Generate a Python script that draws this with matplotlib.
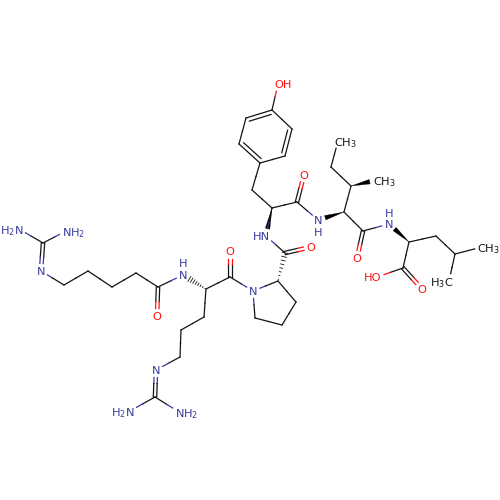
import matplotlib
matplotlib.use("Agg")
import matplotlib.pyplot as plt
import numpy as np

plt.rcParams['mathtext.default'] = 'regular'

BLACK = "#141414"
BLUE = "#3a3a9e"
RED = "#ff1010"

# atoms, pixel positions
atom_x = {
    "nh2a": 19, "nh2b": 66, "cz1": 43, "ne1": 41, "c1": 64, "c2": 88, "c3": 112, "c4": 136,
    "co1": 158, "o1": 157, "n1": 183, "ca1": 206, "co2": 230, "o2": 230, "cb2": 204, "cg2": 181,
    "cd2": 180, "ne2": 156, "cz2": 155, "nh2c": 130, "nh2d": 179, "n2": 253, "ca3": 278,
    "cb3": 296, "cg3": 282, "cd3": 255, "co3": 285, "o3": 311, "n4": 266, "ca4": 272, "co4": 297,
    "o4": 304, "cb4": 252, "r1": 260, "r2": 239, "r3": 246, "r4": 272, "r5": 292, "r6": 285,
    "oh": 278, "n5": 318, "ca5": 344, "cb5": 351, "me5": 377, "cg5": 331, "cd5": 338, "co5": 363,
    "o5": 357, "n6": 389, "ca6": 409, "cb6": 436, "cg6": 455, "me6": 482, "me7": 449,
    "co6": 403, "o6": 422, "oh6": 377,
}
atom_y = {
    "nh2a": 229, "nh2b": 231, "cz1": 243, "ne1": 271, "c1": 285, "c2": 271, "c3": 287, "c4": 273,
    "co1": 287, "o1": 316, "n1": 275, "ca1": 289, "co2": 277, "o2": 251, "cb2": 317, "cg2": 330,
    "cd2": 357, "ne2": 370, "cz2": 397, "nh2c": 411, "nh2d": 412, "n2": 291, "ca3": 281,
    "cb3": 302, "cg3": 325, "cd3": 318, "co3": 253, "o3": 247, "n4": 236, "ca4": 208, "co4": 202,
    "o4": 175, "cb4": 190, "r1": 163, "r2": 144, "r3": 118, "r4": 110, "r5": 129, "r6": 156,
    "oh": 84, "n5": 220, "ca5": 212, "cb5": 186, "me5": 180, "cg5": 167, "cd5": 141, "co5": 231,
    "o5": 258, "n6": 224, "ca6": 242, "cb6": 236, "cg6": 254, "me6": 247, "me7": 281,
    "co6": 268, "o6": 289, "oh6": 277,
}

# atom -> text, how it hangs off the atom position, colour
labels = {
    "nh2a": ("H$_2$N", "right", 4, BLUE),
    "nh2b": ("NH$_2$", "left", -4, BLUE),
    "ne1": ("N", "center", 0, BLUE),
    "o1": ("O", "center", 0, RED),
    "n1": ("N", "center", 0, BLUE),
    "o2": ("O", "center", 0, RED),
    "ne2": ("N", "center", 0, BLUE),
    "nh2c": ("H$_2$N", "right", 4, BLUE),
    "nh2d": ("NH$_2$", "left", -4, BLUE),
    "n2": ("N", "center", 0, BLUE),
    "o3": ("O", "center", 0, RED),
    "n4": ("HN", "right", 4, BLUE),
    "o4": ("O", "center", 0, RED),
    "oh": ("OH", "left", -4, RED),
    "n5": ("N", "center", 0, BLUE),
    "me5": ("CH$_3$", "left", -4, BLACK),
    "cd5": ("CH$_3$", "left", -4, BLACK),
    "o5": ("O", "center", 0, RED),
    "n6": ("N", "center", 0, BLUE),
    "me6": ("CH$_3$", "left", -5, BLACK),
    "me7": ("H$_3$C", "right", 4, BLACK),
    "o6": ("O", "center", 0, RED),
    "oh6": ("HO", "right", 4, RED),
}

# the extra H written above/below an amide N
extra_h = {"n1": -12, "n5": 12, "n6": -11}

single_bonds = [
    ("cz1", "nh2a"), ("cz1", "nh2b"), ("ne1", "c1"), ("c1", "c2"), ("c2", "c3"), ("c3", "c4"),
    ("c4", "co1"), ("co1", "n1"), ("ca1", "co2"), ("ca1", "cb2"), ("cb2", "cg2"), ("cg2", "cd2"),
    ("cd2", "ne2"), ("cz2", "nh2c"), ("cz2", "nh2d"), ("co2", "n2"), ("n2", "ca3"), ("ca3", "cb3"),
    ("cb3", "cg3"), ("cg3", "cd3"), ("cd3", "n2"), ("co3", "n4"), ("n4", "ca4"), ("ca4", "co4"),
    ("ca4", "cb4"), ("cb4", "r1"), ("r4", "oh"), ("co4", "n5"), ("ca5", "cb5"), ("cb5", "cg5"),
    ("cg5", "cd5"), ("ca5", "co5"), ("co5", "n6"), ("ca6", "cb6"), ("cb6", "cg6"), ("cg6", "me6"),
    ("cg6", "me7"), ("ca6", "co6"), ("co6", "oh6"), ("r2", "r3"), ("r4", "r5"), ("r6", "r1"),
]
double_bonds = [
    ("cz1", "ne1"), ("co1", "o1"), ("co2", "o2"), ("ne2", "cz2"), ("co3", "o3"), ("co4", "o4"),
    ("co5", "o5"), ("co6", "o6"),
]
ring_double_bonds = [("r1", "r2"), ("r3", "r4"), ("r5", "r6")]
ring_center = ("r1", "r4")

# narrow end first
wedge_bonds = [("ca4", "n4"), ("ca5", "n5"), ("cb5", "me5"), ("ca6", "n6")]
hash_bonds = [("ca1", "n1"), ("ca3", "co3")]


def pos(name):
    return np.array([atom_x[name], atom_y[name]], dtype=float)


def color_of(name):
    if name in labels:
        return labels[name][3]
    return BLACK


def shrink(name, other):
    # pull the bond end back from a text label
    p = pos(name)
    if name not in labels:
        return p
    d = pos(other) - p
    return p + d / np.linalg.norm(d) * 7.5


def draw_offset(ax, a, b, off):
    # two-coloured line, split at the middle of the bond
    p, q = shrink(a, b), shrink(b, a)
    d = q - p
    n = np.array([-d[1], d[0]]) / np.linalg.norm(d)
    mid = (pos(a) + pos(b)) / 2 + n * off
    p = p + n * off
    q = q + n * off
    ax.plot([p[0], mid[0]], [p[1], mid[1]], color=color_of(a), lw=0.9)
    ax.plot([mid[0], q[0]], [mid[1], q[1]], color=color_of(b), lw=0.9)


fig = plt.figure(figsize=(5, 5), dpi=100)
ax = fig.add_axes([0, 0, 1, 1])
ax.set_xlim(0, 500)
ax.set_ylim(500, 0)
ax.axis("off")

for a, b in single_bonds:
    draw_offset(ax, a, b, 0)

for a, b in double_bonds:
    draw_offset(ax, a, b, 1.7)
    draw_offset(ax, a, b, -1.7)

center = (pos(ring_center[0]) + pos(ring_center[1])) / 2
for a, b in ring_double_bonds:
    p, q = pos(a), pos(b)
    ax.plot([p[0], q[0]], [p[1], q[1]], color=BLACK, lw=0.9)
    # inner line, a bit shorter
    p2 = p + (center - p) * 0.17
    q2 = q + (center - q) * 0.17
    ax.plot([p2[0], q2[0]], [p2[1], q2[1]], color=BLACK, lw=0.9)

for a, b in wedge_bonds:
    p, q = pos(a), shrink(b, a)
    d = q - p
    n = np.array([-d[1], d[0]]) / np.linalg.norm(d)
    ax.fill([p[0], q[0] + n[0] * 2.3, q[0] - n[0] * 2.3],
            [p[1], q[1] + n[1] * 2.3, q[1] - n[1] * 2.3], color="black", lw=0.2)

for a, b in hash_bonds:
    p, q = pos(a), shrink(b, a)
    d = q - p
    n = np.array([-d[1], d[0]]) / np.linalg.norm(d)
    for t in np.linspace(0.06, 1, 8):
        c = p + d * t
        w = 2.8 * t
        ax.plot([c[0] - n[0] * w, c[0] + n[0] * w], [c[1] - n[1] * w, c[1] + n[1] * w],
                color=BLACK, lw=0.6)

for name, (text, ha, dx, col) in labels.items():
    ax.text(atom_x[name] + dx, atom_y[name], text, color=col, ha=ha, va="center_baseline",
            fontsize=8.2, family="DejaVu Sans")

for name, dy in extra_h.items():
    ax.text(atom_x[name], atom_y[name] + dy, "H", color=BLUE, ha="center", va="center_baseline",
            fontsize=8.2, family="DejaVu Sans")

fig.savefig("out.png", dpi=100)
